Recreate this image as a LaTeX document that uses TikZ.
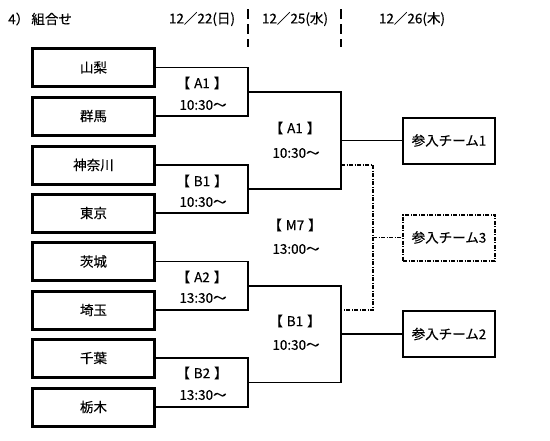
\documentclass[tikz,border=0pt]{standalone}
\usepackage{fontspec}
\setmainfont[FakeBold=0.3]{Noto Sans CJK JP}
\usetikzlibrary{calc}
\tikzset{
	team/.style={draw, line width=3pt, minimum width=122pt, minimum height=38pt, inner sep=0pt},
	entry/.style={draw, line width=2pt, minimum width=92pt, minimum height=46pt, inner sep=0pt},
	wire/.style={line width=1.5pt},
	spare/.style={line width=1.5pt, dash pattern=on 4pt off 1.5pt on 1pt off 1.5pt},
	daysep/.style={line width=2.5pt, dash pattern=on 10pt off 5pt},
	lbl/.style={inner sep=0pt}
}
\def\gap{\hspace{4pt}}

\begin{document}
\begin{tikzpicture}[x=1pt, y=-1pt, font=\fontsize{13.5}{15}\selectfont]
		%%%%% START %%%%%
		\useasboundingbox (0, 0) rectangle (550, 440);
		
		\node[lbl, anchor=west] (title) at (8, 19) {4）\,組合せ};
		\node[lbl] (day1) at (202, 19) {12／22(日)};
		\node[lbl] (day2) at (295, 19) {12／25(水)};
		\node[lbl] (day3) at (412, 19) {12／26(木)};
		\draw[daysep] (248, 9) -- (248, 47);
		\draw[daysep] (341, 9) -- (341, 47);
		
		\node[team] (yamanashi) at (93.5, 67.5) {山梨};
		\node[team] (gunma) at (93.5, 116) {群馬};
		\node[team] (kanagawa) at (93.5, 165) {神奈川};
		\node[team] (tokyo) at (93.5, 213) {東京};
		\node[team] (ibaraki) at (93.5, 261.5) {茨城};
		\node[team] (saitama) at (93.5, 310) {埼玉};
		\node[team] (chiba) at (93.5, 358) {千葉};
		\node[team] (tochigi) at (93.5, 407) {栃木};
		
		\node[entry] (team1) at (449, 140.5) {参入チーム1};
		\node[entry, spare, line width=2pt] (team3) at (449, 237.5) {参入チーム3};
		\node[entry] (team2) at (449, 334) {参入チーム2};
		
		\coordinate (a1) at (248, 91.75);
		\coordinate (b1) at (248, 189);
		\coordinate (a2) at (248, 285.75);
		\coordinate (b2) at (248, 382.5);
		\coordinate (sa1) at (341, 140.5);
		\coordinate (sb1) at (341, 334);
		\coordinate (lose1) at (341, 165);
		\coordinate (lose2) at (341, 310);
		\coordinate (m7) at (373, 237.5);
		
		\draw[wire] (yamanashi.east) -| (a1) |- (gunma.east);
		\draw[wire] (kanagawa.east) -| (b1) |- (tokyo.east);
		\draw[wire] (ibaraki.east) -| (a2) |- (saitama.east);
		\draw[wire] (chiba.east) -| (b2) |- (tochigi.east);
		
		\draw[wire] (a1) -| (sa1) |- (b1);
		\draw[wire] (a2) -| (sb1) |- (b2);
		\draw[wire] (sa1) -- (team1.west);
		\draw[wire] (sb1) -- (team2.west);
		
		\draw[spare] (lose1) -| (m7) |- (lose2);
		\draw[spare] (m7) -- (team3.west);
		
		\node[lbl] (gA1) at (202, 83) {【\gap A1\gap 】};
		\node[lbl] (hA1) at (203, 105) {10:30〜};
		\node[lbl] (gB1) at (202, 181) {【\gap B1\gap 】};
		\node[lbl] (hB1) at (203, 202) {10:30〜};
		\node[lbl] (gA2) at (202, 277) {【\gap A2\gap 】};
		\node[lbl] (hA2) at (203, 298) {13:30〜};
		\node[lbl] (gB2) at (202, 373) {【\gap B2\gap 】};
		\node[lbl] (hB2) at (203, 395) {13:30〜};
		
		\node[lbl] (sgA1) at (295, 128) {【\gap A1\gap 】};
		\node[lbl] (shA1) at (296, 153) {10:30〜};
		\node[lbl] (sgM7) at (295, 225) {【\gap M7\gap 】};
		\node[lbl] (shM7) at (296, 249) {13:00〜};
		\node[lbl] (sgB1) at (295, 321) {【\gap B1\gap 】};
		\node[lbl] (shB1) at (296, 345) {10:30〜};
		%%%%% END %%%%%
	\end{tikzpicture}
\end{document}
